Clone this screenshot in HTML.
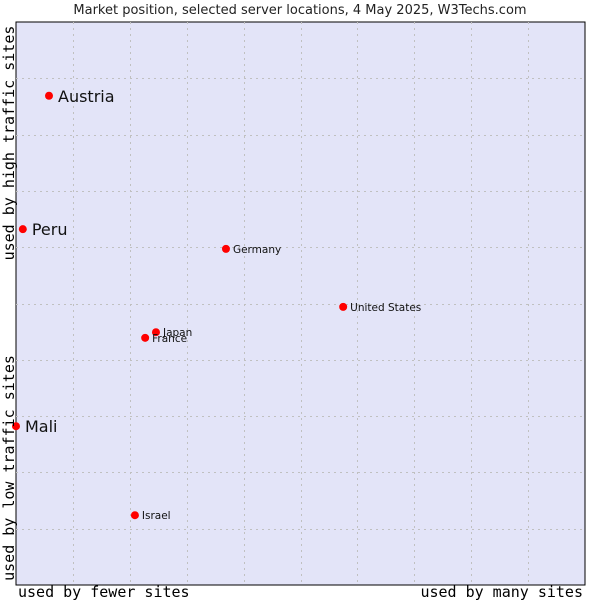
<!DOCTYPE html>
<html><head><meta charset="utf-8"><style>
body{margin:0;background:#fff;width:600px;height:600px;overflow:hidden}
svg{display:block}
</style></head><body>
<svg id="chart" width="600" height="600" xmlns="http://www.w3.org/2000/svg">
<text x="300" y="14" text-anchor="middle" font-family="DejaVu Sans, sans-serif" font-size="13" fill="#222">Market position, selected server locations, 4 May 2025, W3Techs.com</text>
<rect x="16" y="22" width="569" height="563" fill="#e3e4f8" stroke="#000" stroke-width="1"/>
<g id="grid"></g>
<g id="points"></g>
<text transform="translate(14,143) rotate(-90)" text-anchor="middle" font-family="DejaVu Sans Mono, Liberation Mono, monospace" font-size="15" fill="#000">used by high traffic sites</text>
<text transform="translate(14,468) rotate(-90)" text-anchor="middle" font-family="DejaVu Sans Mono, Liberation Mono, monospace" font-size="15" fill="#000">used by low traffic sites</text>
<text x="18" y="597" font-family="DejaVu Sans Mono, Liberation Mono, monospace" font-size="15" fill="#000">used by fewer sites</text>
<text x="583" y="597" text-anchor="end" font-family="DejaVu Sans Mono, Liberation Mono, monospace" font-size="15" fill="#000">used by many sites</text>
</svg>
<script>
const countries = ["Austria","Peru","Germany","United States","Japan","France","Mali","Israel"];
const xValues = [5.8, 1.2, 36.9, 57.5, 24.6, 22.7, 0, 20.9];
const yValues = [86.9, 63.2, 59.7, 49.4, 44.9, 43.9, 28.2, 12.4];
const bigLabel = [true, true, false, false, false, false, true, false];
const gridTicks = [10,20,30,40,50,60,70,80,90];

const L=16,T=22,W=569,H=563,NS="http://www.w3.org/2000/svg";
const sx=v=>L+v/100*W, sy=v=>T+H-v/100*H;
const grid=document.getElementById('grid'), pts=document.getElementById('points');
gridTicks.forEach(t=>{
  const v=document.createElementNS(NS,'line');
  
  
  v.setAttribute('x1',Math.round(sx(t))+0.5);v.setAttribute('x2',Math.round(sx(t))+0.5);
  v.setAttribute('y1',T);v.setAttribute('y2',T+H);
  v.setAttribute('stroke','#c0c0c0');v.setAttribute('stroke-dasharray','2,4');
  grid.appendChild(v);
  const h=document.createElementNS(NS,'line');
  
  
  h.setAttribute('y1',Math.round(sy(t))+0.5);h.setAttribute('y2',Math.round(sy(t))+0.5);
  h.setAttribute('x1',L);h.setAttribute('x2',L+W);
  h.setAttribute('stroke','#c0c0c0');h.setAttribute('stroke-dasharray','2,4');
  grid.appendChild(h);
});
countries.forEach((c,i)=>{
  const x=sx(xValues[i]),y=sy(yValues[i]);
  const p=document.createElementNS(NS,'circle');
  
  
  p.setAttribute('cx',x);p.setAttribute('cy',y);p.setAttribute('r',4);p.setAttribute('fill','#f00');
  pts.appendChild(p);
  const t=document.createElementNS(NS,'text');
  
  
  const big=bigLabel[i];
  t.setAttribute('x',x+(big?9:7));t.setAttribute('y',y+(big?6:4));
  t.setAttribute('font-family','DejaVu Sans, sans-serif');
  t.setAttribute('font-size',big?16:10.5);t.setAttribute('fill','#111');
  t.textContent=c;
  pts.appendChild(t);
});
</script>
</body></html>
